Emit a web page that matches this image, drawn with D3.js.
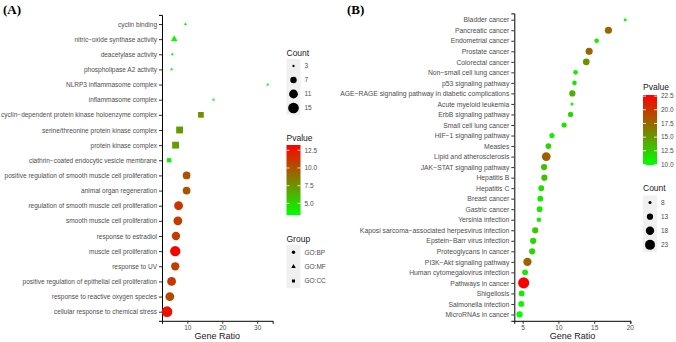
<!DOCTYPE html>
<html><head><meta charset="utf-8">
<script src="https://cdn.jsdelivr.net/npm/d3@7"></script>
<style>
html,body{margin:0;padding:0;background:#fff;}
svg{display:block;font-family:"Liberation Sans",Arial,sans-serif;}
</style></head>
<body>
<svg id="chart" width="676" height="342"></svg>
<script>
// ---------- Panel A data (GO) ----------
const aTerms = ["cyclin binding","nitric\u2212oxide synthase activity","deacetylase activity","phospholipase A2 activity",
 "NLRP3 inflammasome complex","inflammasome complex","cyclin\u2212dependent protein kinase holoenzyme complex",
 "serine/threonine protein kinase complex","protein kinase complex","clathrin\u2212coated endocytic vesicle membrane",
 "positive regulation of smooth muscle cell proliferation","animal organ regeneration","regulation of smooth muscle cell proliferation",
 "smooth muscle cell proliferation","response to estradiol","muscle cell proliferation","response to UV",
 "positive regulation of epithelial cell proliferation","response to reactive oxygen species","cellular response to chemical stress"];
const aRatio  = [9.5,6.25,5.7,5.5,33.0,17.5,13.9,7.8,6.65,4.8,9.8,9.8,7.5,7.3,6.75,6.55,6.55,5.5,5.0,4.2];
const aCount  = [3,5,3,3,3,3,7,9,9,5,9,9,11,11,10,14,10,11,11,15];
const aPvalue = [3.4,3.5,3.4,3.4,3.35,3.5,7.6,7.3,7.0,3.9,10.0,10.0,11.3,11.0,11.0,13.25,10.8,11.2,10.3,12.7];
const aGroup  = ["GO:MF","GO:MF","GO:MF","GO:MF","GO:CC","GO:CC","GO:CC","GO:CC","GO:CC","GO:CC",
 "GO:BP","GO:BP","GO:BP","GO:BP","GO:BP","GO:BP","GO:BP","GO:BP","GO:BP","GO:BP"];
const aXTicks = [10,20,30];
const aCountBreaks = [3,7,11,15];
const aPBreaks = [5.0,7.5,10.0,12.5];
const groupNames = ["GO:BP","GO:MF","GO:CC"];

// ---------- Panel B data (KEGG) ----------
const bTerms = ["Bladder cancer","Pancreatic cancer","Endometrial cancer","Prostate cancer","Colorectal cancer",
 "Non\u2212small cell lung cancer","p53 signaling pathway","AGE\u2212RAGE signaling pathway in diabetic complications",
 "Acute myeloid leukemia","ErbB signaling pathway","Small cell lung cancer","HIF\u22121 signaling pathway","Measles",
 "Lipid and atherosclerosis","JAK\u2212STAT signaling pathway","Hepatitis B","Hepatitis C","Breast cancer","Gastric cancer",
 "Yersinia infection","Kaposi sarcoma\u2212associated herpesvirus infection","Epstein\u2212Barr virus infection",
 "Proteoglycans in cancer","PI3K\u2212Akt signaling pathway","Human cytomegalovirus infection","Pathways in cancer",
 "Shigellosis","Salmonella infection","MicroRNAs in cancer"];
const bRatio  = [19.35,17.0,15.35,14.3,13.9,12.4,12.25,11.95,11.9,11.7,10.8,9.1,8.6,8.3,8.0,8.04,7.6,7.47,7.37,7.27,
 6.76,6.47,6.33,5.67,5.34,5.14,4.86,4.8,4.57];
const bCount  = [8,15,10,15,14,10,10,13,8,11,11,11,12,19,13,13,12,12,12,10,13,13,13,18,12,27,12,12,13];
const bPvalue = [10.0,17.6,10.9,17.7,15.5,11.0,11.0,14.0,10.5,12.0,11.0,10.5,12.0,17.8,13.0,13.0,11.5,11.0,11.0,10.5,
 12.5,11.5,12.0,17.9,11.0,22.7,10.5,10.3,9.9];
const bXTicks = [5,10,15,20];
const bCountBreaks = [8,13,18,23];
const bPBreaks = [10.0,12.5,15.0,17.5,20.0,22.5];

const svg = d3.select("#chart");
const labelColor = "#4d4d4d";
const shapeOf = {"GO:BP": d3.symbolCircle, "GO:MF": d3.symbolTriangle, "GO:CC": d3.symbolSquare};

function areaRadiusScale(domain, rRange){
  // ggplot-like: area linear in value
  const lin = d3.scaleLinear().domain(domain).range([rRange[0]*rRange[0], rRange[1]*rRange[1]]);
  return v => Math.sqrt(Math.max(0.2, lin(v)));
}

function drawPanel(cfg){
  const g = svg.append("g");
  const ext = d3.extent(cfg.ratio); const pad = (ext[1]-ext[0])*0.05;
  const x = d3.scaleLinear().domain([ext[0]-pad, ext[1]+pad]).range([cfg.left, cfg.right]);
  const y = d3.scalePoint().domain(cfg.terms).range([cfg.top, cfg.bottom]).padding(0.6);
  const color = d3.scaleLinear().domain(d3.extent(cfg.pvalue)).range(["#00ff00","#ff0000"]).interpolate(d3.interpolateRgb);
  const r = areaRadiusScale(cfg.countDomain, cfg.rRange);

  // axes
  const yAxis = d3.axisLeft(y).tickSize(3).tickPadding(2);
  const ya = g.append("g").attr("transform",`translate(${cfg.left},0)`).call(yAxis);
  ya.select(".domain").attr("stroke","#000").attr("stroke-width",1);
  ya.selectAll(".tick line").attr("stroke","#333");
  ya.selectAll(".tick text").attr("fill",labelColor).style("font-size",cfg.labelSize+"px").style("font-family","Liberation Sans, Arial, sans-serif");
  const xAxis = d3.axisBottom(x).tickValues(cfg.xTicks).tickSize(3).tickPadding(2).tickFormat(d3.format("d"));
  const xa = g.append("g").attr("transform",`translate(0,${cfg.bottom})`).call(xAxis);
  xa.select(".domain").attr("stroke","#000").attr("stroke-width",1);
  xa.selectAll(".tick line").attr("stroke","#333");
  xa.selectAll(".tick text").attr("fill",labelColor).style("font-size","6.5px").style("font-family","Liberation Sans, Arial, sans-serif");

  g.append("text").attr("x",(cfg.left+cfg.right)/2).attr("y",339).attr("text-anchor","middle")
    .style("font-size","9px").attr("fill","#1a1a1a").text("Gene Ratio");

  // points
  const idx = d3.range(cfg.terms.length);
  g.append("g").selectAll("path").data(idx).join("path")
    .attr("transform", i => `translate(${x(cfg.ratio[i])},${y(cfg.terms[i])})`)
    .attr("d", i => { const rr = r(cfg.count[i]); return d3.symbol().type(shapeOf[cfg.group ? cfg.group[i] : "GO:BP"]).size(Math.PI*rr*rr)(); })
    .attr("fill", i => color(cfg.pvalue[i]));

  // panel label
  svg.append("text").attr("x",cfg.tagX).attr("y",14).style("font-family","Liberation Serif, Times New Roman, serif")
    .style("font-weight","bold").style("font-size","13px").attr("fill","#000").text(cfg.tag);

  const L = cfg.legend;
  // Count legend
  const lg = svg.append("g");
  lg.append("text").attr("x",L.x).attr("y",L.countTitleY).style("font-size","8.5px").attr("fill","#1a1a1a").text("Count");
  const kh = L.countKeyH;
  lg.append("rect").attr("x",L.x).attr("y",L.countTop).attr("width",14).attr("height",kh*cfg.countBreaks.length).attr("fill","#f0f0f0");
  cfg.countBreaks.forEach((c,k)=>{
    const cy = L.countTop + kh*(k+0.5);
    lg.append("circle").attr("cx",L.x+7).attr("cy",cy).attr("r",r(c)).attr("fill","#000");
    lg.append("text").attr("x",L.x+18).attr("y",cy+2.3).style("font-size","6.5px").attr("fill",labelColor).text(c);
  });
  // Pvalue colorbar
  lg.append("text").attr("x",L.x).attr("y",L.pTitleY).style("font-size","8.5px").attr("fill","#1a1a1a").text("Pvalue");
  const cd = color.domain();
  const cb = d3.scaleLinear().domain(cd).range([L.barBottom, L.barTop]);
  const gid = "grad"+cfg.tag.replace(/\W/g,"");
  const grad = svg.append("defs").append("linearGradient").attr("id",gid).attr("x1",0).attr("y1",1).attr("x2",0).attr("y2",0);
  d3.range(0,1.0001,0.1).forEach(t=>{
    grad.append("stop").attr("offset",t).attr("stop-color",color(cd[0]+t*(cd[1]-cd[0])));
  });
  lg.append("rect").attr("x",L.x).attr("y",L.barTop).attr("width",14).attr("height",L.barBottom-L.barTop).attr("fill",`url(#${gid})`);
  cfg.pBreaks.forEach(p=>{
    const yy = cb(p);
    lg.append("line").attr("x1",L.x).attr("x2",L.x+3).attr("y1",yy).attr("y2",yy).attr("stroke","#fff").attr("stroke-width",0.8);
    lg.append("line").attr("x1",L.x+11).attr("x2",L.x+14).attr("y1",yy).attr("y2",yy).attr("stroke","#fff").attr("stroke-width",0.8);
    lg.append("text").attr("x",L.x+18).attr("y",yy+2.3).style("font-size","6.5px").attr("fill",labelColor).text(d3.format(".1f")(p));
  });
  // Group legend
  if (cfg.group){
    lg.append("text").attr("x",L.x).attr("y",L.gTitleY).style("font-size","8.5px").attr("fill","#1a1a1a").text("Group");
    const gh = L.gKeyH;
    lg.append("rect").attr("x",L.x).attr("y",L.gTop).attr("width",14).attr("height",gh*groupNames.length).attr("fill","#f0f0f0");
    groupNames.forEach((nm,k)=>{
      const cy = L.gTop + gh*(k+0.5);
      lg.append("path").attr("transform",`translate(${L.x+7},${cy})`).attr("d",d3.symbol().type(shapeOf[nm]).size(9)()).attr("fill","#000");
      lg.append("text").attr("x",L.x+18).attr("y",cy+2.3).style("font-size","6.5px").attr("fill",labelColor).text(nm);
    });
  }
}

drawPanel({
  tag:"(A)", tagX:3, terms:aTerms, ratio:aRatio, count:aCount, pvalue:aPvalue, group:aGroup,
  left:162, right:272.7, top:14.9, bottom:320.8, labelSize:6.5,
  xTicks:aXTicks, countBreaks:aCountBreaks, pBreaks:aPBreaks,
  countDomain:[3,15], rRange:[1.15,5.35],
  legend:{x:286.5, countTitleY:55.5, countTop:59, countKeyH:14, pTitleY:141, barTop:145, barBottom:215,
          gTitleY:241.5, gTop:245, gKeyH:14.4}
});

drawPanel({
  tag:"(B)", tagX:347, terms:bTerms, ratio:bRatio, count:bCount, pvalue:bPvalue, group:null,
  left:514.3, right:630.5, top:13.4, bottom:320.8, labelSize:6.8,
  xTicks:bXTicks, countBreaks:bCountBreaks, pBreaks:bPBreaks,
  countDomain:[8,23], rRange:[1.5,5.0],
  legend:{x:643, countTitleY:191, countTop:195.5, countKeyH:14.1, pTitleY:90, barTop:95, barBottom:165}
});
</script>
</body></html>
